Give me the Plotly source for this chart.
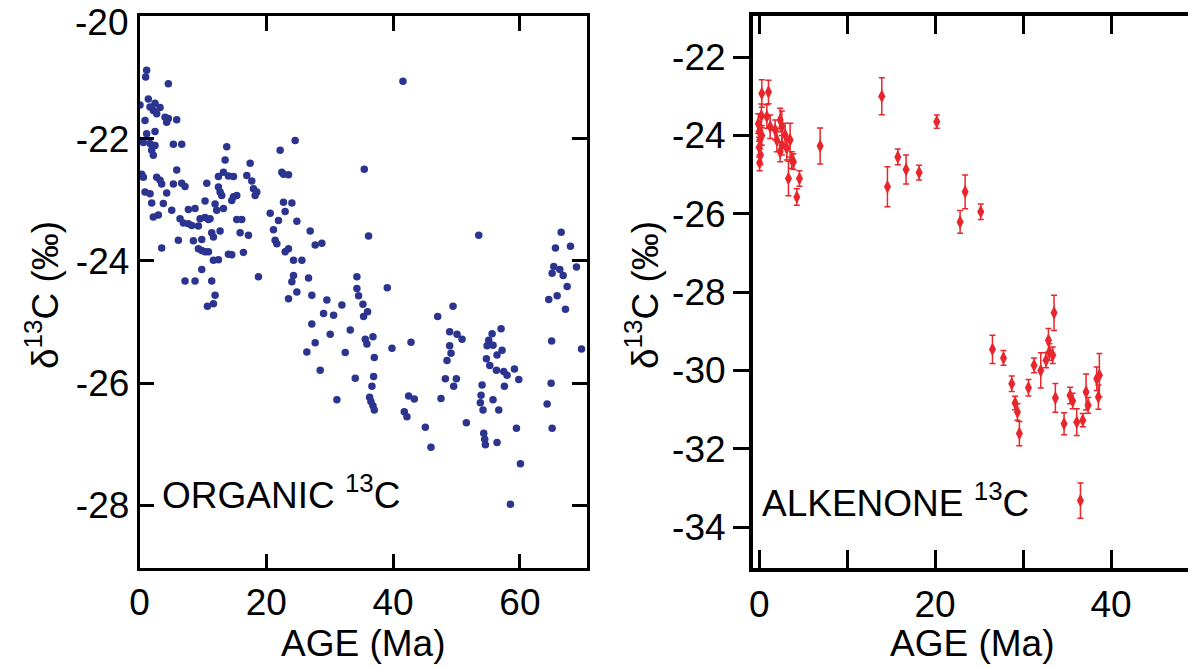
import plotly.graph_objects as go

# ---- Organic 13C (left panel) ----
organic_age = [
    1.13, 0.97, 4.55, 1.39, 0.08, 1.66, 2.45, 3.24, 2.18, 2.71, 4.03, 4.55, 5.87, 4.29, 0.87,
    1.13, 2.45, 0.08, 0.61, 1.66, 2.45, 1.92, 2.18, 5.34, 6.66, 13.76, 13.50, 5.87, 0.34, 0.61,
    2.71, 3.24, 3.50, 5.34, 6.66, 7.18, 10.61, 12.45, 13.24, 14.03, 14.82, 16.92, 17.45, 17.71,
    17.97, 18.50, 18.24, 12.45, 12.71, 12.97, 14.82, 15.34, 14.55, 0.87, 1.66, 4.29, 1.92, 3.76,
    5.08, 7.71, 8.76, 6.39, 6.92, 7.71, 8.24, 9.29, 9.55, 10.34, 10.87, 11.13, 10.34, 11.92,
    12.18, 13.24, 2.18, 2.97, 15.34, 16.13, 15.87, 17.18, 12.71, 11.39, 11.66, 9.82, 8.50, 6.13,
    9.29, 9.82, 10.34, 10.87, 11.66, 12.45, 14.03, 14.55, 16.39, 3.50, 9.82, 7.18, 8.76, 11.39,
    11.92, 18.76, 20.61, 21.92, 21.13, 21.39, 21.66, 22.97, 23.50, 24.29, 25.61, 24.82, 22.71,
    24.03, 22.97, 22.45, 22.71, 23.50, 22.18, 24.55, 26.92, 27.71, 28.76, 24.29, 24.03, 26.66,
    27.18, 24.82, 23.50, 29.55, 34.29, 34.29,
    11.66, 10.71, 31.92, 29.03, 30.61, 27.18, 30.08, 33.24, 27.71, 26.39, 32.45, 28.50, 34.03,
    31.13,
    41.55, 35.45, 36.13, 53.50, 66.50, 65.60, 67.97, 65.34, 66.29, 65.08, 66.82, 68.92, 67.45,
    65.87, 64.55, 34.55, 39.08,
    35.24, 35.97, 35.34, 35.61, 36.82, 35.87, 37.03, 39.82, 42.82, 36.92, 36.66, 36.29, 36.50,
    36.82, 37.03, 42.45, 43.34, 41.76, 42.18, 45.08, 45.97, 47.03, 49.45, 48.92, 50.08, 50.87,
    48.92, 49.13, 48.50, 48.24, 49.97, 49.55, 47.55, 51.55, 55.61, 57.03, 55.08, 55.76, 54.82,
    54.71, 55.24, 56.39, 57.18, 56.29, 57.45, 57.97, 59.13, 59.82, 57.55, 54.03, 53.87, 53.76,
    54.18, 55.76, 56.66, 54.29, 54.45, 54.55, 56.39, 59.45, 60.08, 58.50, 67.18, 65.00, 69.71,
    64.92, 64.29, 65.08,
]
organic_d13c = [
    -20.88, -20.99, -21.10, -21.35, -21.45, -21.48, -21.42, -21.49, -21.54, -21.59, -21.65, -21.67,
    -21.69, -21.73, -21.70, -21.92, -21.88, -22.03, -22.06, -22.08, -22.11, -22.19, -22.27, -22.09,
    -22.09, -22.13, -22.35, -22.51, -22.58, -22.63, -22.63, -22.68, -22.74, -22.74, -22.73, -22.78,
    -22.73, -22.62, -22.55, -22.61, -22.62, -22.60, -22.40, -22.69, -22.82, -22.87, -22.93, -22.79,
    -22.87, -22.93, -22.95, -22.93, -23.01, -22.87, -22.90, -22.89, -23.05, -23.06, -23.17, -23.16,
    -23.14, -23.31, -23.38, -23.39, -23.42, -23.43, -23.31, -23.29, -23.32, -23.31, -23.02, -23.07,
    -23.17, -23.14, -23.28, -23.25, -23.32, -23.32, -23.54, -23.58, -23.51, -23.54, -23.61, -23.65,
    -23.67, -23.66, -23.80, -23.83, -23.85, -23.85, -23.99, -23.98, -23.89, -23.90, -23.86, -23.79,
    -24.14, -24.33, -24.33, -24.33, -24.56, -24.26, -23.22, -23.34, -23.49, -23.66, -23.72, -23.85,
    -23.80, -23.99, -23.99, -23.35, -23.04, -23.05, -23.19, -22.55, -22.58, -22.59, -22.19, -22.03,
    -23.51, -23.74, -23.71, -24.24, -24.34, -24.28, -24.56, -24.51, -24.62, -24.64, -24.26, -24.45,
    -24.70, -24.74, -24.72, -24.86, -24.89, -25.03, -25.20, -25.13, -25.34, -25.49, -25.50, -25.79,
    -25.92, -26.27,
    -21.06, -22.50, -23.59, -23.58, -23.53, -23.79, -23.76, -24.09, -24.14, -24.20, -24.24, -24.10,
    -24.42, -24.57, -24.63, -24.57, -24.44,
    -24.71, -24.83, -24.91, -25.28, -25.24, -25.36, -25.58, -25.43, -25.33, -25.89, -26.05, -26.23,
    -26.30, -26.37, -26.44, -26.21, -26.26, -26.47, -26.55, -26.72, -27.05, -24.91, -24.74, -25.16,
    -25.20, -25.28, -25.39, -25.51, -25.63, -25.93, -25.93, -26.05, -26.25, -26.65, -25.19, -25.11,
    -25.30, -25.38, -25.39, -25.60, -25.71, -25.54, -25.46, -25.79, -25.81, -25.87, -25.77, -25.94,
    -26.05, -26.03, -26.20, -26.32, -26.44, -26.27, -26.44, -26.82, -26.92, -27.01, -26.97, -26.74,
    -27.32, -27.98, -24.79, -25.31, -25.44, -26.00, -26.34, -26.74,
]

# ---- Alkenone 13C (right panel) ----
alkenone_age = [
    -0.1, 0.0, 0.1, 0.0, 0.15, 0.05, 0.25, 0.3, 0.30, 1.06, 0.87, 1.25, 1.82, 2.39, 2.01, 2.58,
    2.39, 3.14, 3.90, 2.95, 2.58, 3.52, 3.71, 3.33, 4.28, 4.58, 6.93, 13.94, 14.58, 15.76, 16.70,
    18.18, 20.19, 22.84, 23.41, 25.19, 26.52, 27.77, 28.71, 29.09, 29.36, 29.58, 30.61, 31.25,
    32.01, 32.61, 32.88, 32.99, 33.37, 33.52, 33.67, 34.66, 35.34, 35.64, 36.10, 36.78, 37.16,
    37.39, 38.37, 38.67, 38.56, 36.52,
]
alkenone_d13c = [
    -23.7, -23.9, -24.1, -24.3, -24.5, -24.7, -23.5, -24.0, -22.93, -22.89, -23.52, -23.78, -23.86,
    -23.61, -24.12, -24.25, -24.42, -24.33, -24.67, -23.99, -23.78, -24.12, -24.63, -25.10, -25.57,
    -25.10, -24.27, -23.00, -25.31, -24.55, -24.87, -24.95, -23.65, -26.21, -25.44, -25.95, -29.46,
    -29.68, -30.34, -30.83, -31.06, -31.61, -30.44, -29.87, -30.00, -29.74, -29.23, -29.53, -29.61,
    -28.53, -30.70, -31.36, -30.64, -30.78, -31.32, -31.27, -30.55, -30.89, -30.21, -30.12, -30.68,
    -33.32,
]
alkenone_err = [
    0.25, 0.25, 0.25, 0.25, 0.25, 0.20, 0.30, 0.25, 0.35, 0.30, 0.30, 0.30, 0.25, 0.30, 0.30, 0.25,
    0.25, 0.30, 0.20, 0.30, 0.40, 0.43, 0.21, 0.44, 0.21, 0.20, 0.46, 0.47, 0.51, 0.20, 0.37, 0.19,
    0.17, 0.29, 0.43, 0.20, 0.36, 0.19, 0.20, 0.17, 0.21, 0.31, 0.21, 0.19, 0.45, 0.19, 0.30, 0.21,
    0.21, 0.45, 0.37, 0.28, 0.21, 0.20, 0.34, 0.17, 0.46, 0.20, 0.30, 0.55, 0.31, 0.45,
]

left_xticks = [0, 20, 40, 60]
left_yticks = [-28, -26, -24, -22]
left_ylabels = ["-28", "-26", "-24", "-22"]
left_ytop_label = "-20"
right_yticks = [-34, -32, -30, -28, -26, -24, -22]
right_ylabels = ["-34", "-32", "-30", "-28", "-26", "-24", "-22"]

BLUE = "#2B3590"
RED = "#E8262B"
FONT = "Liberation Sans, Arial, Helvetica, sans-serif"
W, H = 1196, 668
OFF = 8  # page body margin


def px(xp):
    return (xp - OFF) / W


def py(yp):
    return 1 - (yp - OFF) / H


fig = go.Figure()
fig.add_trace(go.Scatter(
    x=organic_age, y=organic_d13c, mode="markers", xaxis="x", yaxis="y",
    marker=dict(color=BLUE, size=7.5, line=dict(width=0)), showlegend=False,
))
fig.add_trace(go.Scatter(
    x=alkenone_age, y=alkenone_d13c, mode="markers", xaxis="x2", yaxis="y2",
    marker=dict(color=RED, size=10, symbol="diamond-tall", line=dict(width=0)),
    error_y=dict(type="data", array=alkenone_err, visible=True, color=RED, thickness=1.5, width=3),
    showlegend=False,
))

ydom = [py(568.3), py(15.9)]
x1dom = [px(139.5), px(586.5)]
x2dom = [px(753), px(1192)]

tickfont = dict(family=FONT, size=37, color="black")

fig.update_layout(
    width=W, height=H, template="none",
    margin=dict(l=0, r=0, t=0, b=0),
    paper_bgcolor="white", plot_bgcolor="white",
    font=dict(family=FONT, color="black"),
    xaxis=dict(domain=x1dom, anchor="y", range=[0, 70.5], tickvals=left_xticks,
               ticks="inside", ticklen=15, tickwidth=2.5, tickcolor="black",
               showline=True, linewidth=2.5, linecolor="black", mirror="ticks",
               showgrid=False, zeroline=False, tickfont=tickfont,
               ticklabeloverflow="allow"),
    yaxis=dict(domain=ydom, anchor="x", range=[-29.03, -19.99], tickvals=left_yticks,
               ticktext=left_ylabels,
               ticks="inside", ticklen=15, tickwidth=2.5, tickcolor="black",
               showline=True, linewidth=2.5, linecolor="black", mirror="ticks",
               showgrid=False, zeroline=False, tickfont=tickfont,
               ticklabeloverflow="allow"),
    xaxis2=dict(domain=x2dom, anchor="y2", range=[-0.7, 49.2],
                tickmode="linear", tick0=0, dtick=20,
                ticks="inside", ticklen=18, tickwidth=3, tickcolor="black",
                minor=dict(tick0=0, dtick=10, ticks="inside", ticklen=18, tickwidth=3,
                           tickcolor="black", showgrid=False),
                showline=True, linewidth=4, linecolor="black", mirror="ticks",
                showgrid=False, zeroline=False, tickfont=tickfont,
                ticklabeloverflow="allow"),
    yaxis2=dict(domain=ydom, anchor="x2", range=[-35.05, -20.95], tickvals=right_yticks,
                ticktext=right_ylabels,
                ticks="outside", ticklen=16, tickwidth=3, tickcolor="black",
                showline=True, linewidth=4, linecolor="black", mirror=False,
                showgrid=False, zeroline=False, tickfont=tickfont,
                ticklabeloverflow="allow"),
    yaxis3=dict(overlaying="y2", anchor="x2", side="right", range=[-35.05, -20.95],
                tickvals=right_yticks, showticklabels=False,
                ticks="inside", ticklen=12, tickwidth=3, tickcolor="black",
                showline=True, linewidth=4, linecolor="black",
                showgrid=False, zeroline=False),
)

ann_font = dict(family=FONT, size=37, color="black")
annotations = [
    dict(text=left_ytop_label, x=px(129), y=py(23), xref="paper", yref="paper",
         xanchor="right", yanchor="middle", showarrow=False, font=ann_font, borderpad=0),
    dict(text="AGE (Ma)", x=(x1dom[0] + x1dom[1]) / 2, y=py(643), xref="paper", yref="paper",
         xanchor="center", yanchor="middle", showarrow=False, font=ann_font),
    dict(text="AGE (Ma)", x=(x2dom[0] + x2dom[1]) / 2, y=py(643), xref="paper", yref="paper",
         xanchor="center", yanchor="middle", showarrow=False, font=ann_font),
    dict(text="δ<sup>13</sup>C (‰)", x=px(42), y=py(295), xref="paper", yref="paper",
         xanchor="center", yanchor="middle", textangle=-90, showarrow=False, font=ann_font),
    dict(text="δ<sup>13</sup>C (‰)", x=px(642), y=py(295), xref="paper", yref="paper",
         xanchor="center", yanchor="middle", textangle=-90, showarrow=False, font=ann_font),
    dict(text="ORGANIC <sup>13</sup>C", x=px(160), y=py(492), xref="paper", yref="paper",
         xanchor="left", yanchor="middle", showarrow=False, font=ann_font),
    dict(text="ALKENONE <sup>13</sup>C", x=px(760), y=py(500), xref="paper", yref="paper",
         xanchor="left", yanchor="middle", showarrow=False, font=ann_font,
         bgcolor="white"),
]
fig.update_layout(annotations=annotations)

fig.write_html("out.html")
